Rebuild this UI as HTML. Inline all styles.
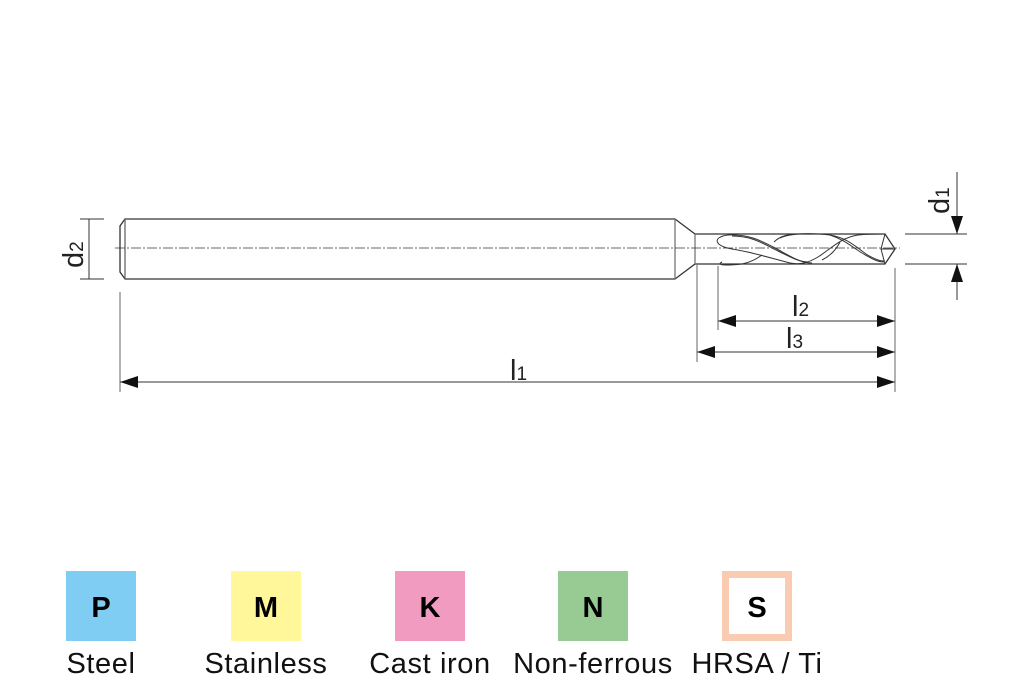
<!DOCTYPE html>
<html><head><meta charset="utf-8"><style>
html,body{margin:0;padding:0;background:#fff;width:1024px;height:700px;overflow:hidden}
svg{display:block}
text{font-family:"Liberation Sans",sans-serif}
</style></head><body>
<svg width="1024" height="700" viewBox="0 0 1024 700" xmlns="http://www.w3.org/2000/svg">
<defs>
<marker id="a" viewBox="0 0 18 12" refX="18" refY="6" markerWidth="18" markerHeight="12" orient="auto" markerUnits="userSpaceOnUse"><path d="M0,0L18,6L0,12z" fill="#111"/></marker>
</defs>
<g fill="none" stroke="#333" stroke-width="1.3">
<path d="M125,219 L675,219 L695,234 L885,234 L895,249 L885,264 L695,264 L675,279 L125,279 L120,272 L120,226 Z"/>
<line x1="125" y1="219" x2="125" y2="279" stroke="#666"/>
<line x1="675" y1="219" x2="675" y2="279" stroke="#777"/>
<line x1="695" y1="234" x2="695" y2="264" stroke="#777"/>
</g>
<!-- flutes -->
<g fill="none" stroke="#333" stroke-width="1">
<path d="M728,235 C712,237 714,246 732,249 C752,252 770,258 790,263 C800,265 808,263 818,257 C832,248 840,238 858,235 C868,234 878,234 884,234"/>
<path d="M728,235 C748,234 760,240 775,248 C790,256 800,263 812,263"/>
<path d="M732,236 C752,236 762,243 778,251 C792,258 800,262 808,262"/>
<path d="M780,238 C792,233 812,233 830,235 C845,240 852,247 862,253 C872,259 878,262 884,262"/>
<path d="M830,235 C847,238 855,246 866,254 C874,259 880,261 884,261"/>
<path d="M774,242 C780,236 788,234 800,234"/>
<path d="M722,262 C716,265 725,266 742,264 C752,262 758,258 762,255"/>
<path d="M840,242 C836,250 830,256 822,260"/>
<path d="M885,234 L881,249 L885,264 M881,249 L895,249"/>
</g>
<line x1="115" y1="248" x2="900" y2="248" stroke="#333" stroke-width="0.8" stroke-dasharray="10,2,2,2"/>
<g stroke="#888" stroke-width="1.3">
<line x1="120" y1="292" x2="120" y2="392"/>
<line x1="697" y1="265" x2="697" y2="362"/>
<line x1="718" y1="266" x2="718" y2="330"/>
<line x1="895" y1="268" x2="895" y2="392"/>
</g>
<g stroke="#333" stroke-width="1">
<line x1="905" y1="234" x2="967" y2="234"/>
<line x1="905" y1="264" x2="967" y2="264"/>
<line x1="957" y1="172" x2="957" y2="234" marker-end="url(#a)"/>
<line x1="957" y1="300" x2="957" y2="264" marker-end="url(#a)"/>
<line x1="80" y1="219" x2="104" y2="219"/>
<line x1="80" y1="279" x2="104" y2="279"/>
<line x1="89" y1="219" x2="89" y2="279"/>
<line x1="806" y1="321" x2="718" y2="321" marker-end="url(#a)"/>
<line x1="806" y1="321" x2="895" y2="321" marker-end="url(#a)"/>
<line x1="796" y1="352" x2="697" y2="352" marker-end="url(#a)"/>
<line x1="796" y1="352" x2="895" y2="352" marker-end="url(#a)"/>
<line x1="500" y1="382" x2="120" y2="382" marker-end="url(#a)"/>
<line x1="500" y1="382" x2="895" y2="382" marker-end="url(#a)"/>
</g>
<g fill="#222" font-size="29">
<text x="792" y="316">l<tspan font-size="19">2</tspan></text>
<text x="786" y="348">l<tspan font-size="19">3</tspan></text>
<text x="510" y="380">l<tspan font-size="19">1</tspan></text>
<text transform="translate(949,214) rotate(-90)">d<tspan font-size="19">1</tspan></text>
<text transform="translate(83,268) rotate(-90)">d<tspan font-size="19">2</tspan></text>
</g>
<rect x="66" y="571" width="70" height="70" fill="#7fcdf3"/>
<rect x="231" y="571" width="70" height="70" fill="#fff799"/>
<rect x="395" y="571" width="70" height="70" fill="#f29bc1"/>
<rect x="558" y="571" width="70" height="70" fill="#98cb93"/>
<rect x="725.5" y="574.5" width="63" height="63" fill="#fff" stroke="#f9cbb1" stroke-width="7"/>
<g font-size="29" font-weight="bold" text-anchor="middle" fill="#000">
<text x="101" y="617">P</text>
<text x="266" y="617">M</text>
<text x="430" y="617">K</text>
<text x="593" y="617">N</text>
<text x="757" y="617">S</text>
</g>
<g font-size="29" text-anchor="middle" fill="#111" letter-spacing="0.6">
<text x="101" y="673">Steel</text>
<text x="266" y="673">Stainless</text>
<text x="430" y="673">Cast iron</text>
<text x="593" y="673">Non-ferrous</text>
<text x="757" y="673">HRSA / Ti</text>
</g>
</svg>
</body></html>
